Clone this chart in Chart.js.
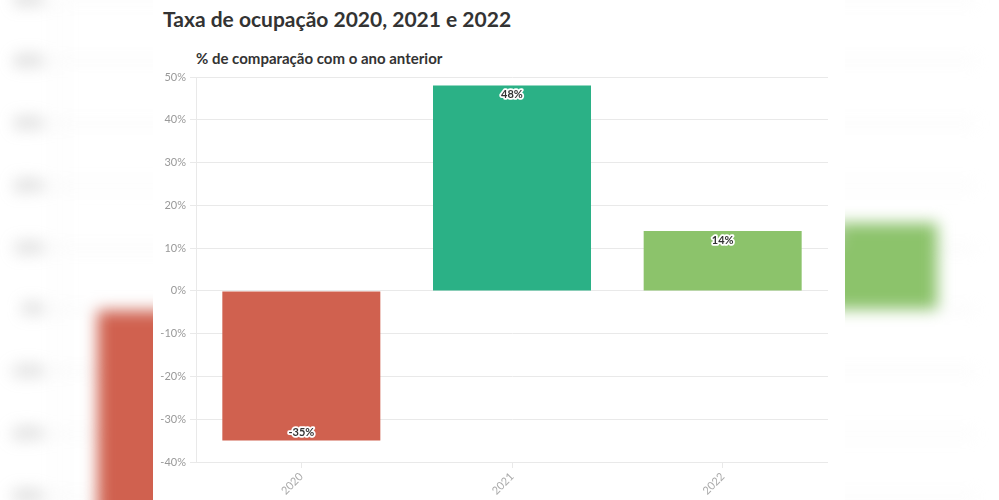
<!DOCTYPE html>
<html lang="pt-BR">
<head>
<meta charset="utf-8">
<title>Taxa de ocupação 2020, 2021 e 2022</title>
<script src="https://cdn.jsdelivr.net/npm/chart.js@4/dist/chart.umd.min.js"></script>
<style>
  html, body { margin: 0; padding: 0; background: #fff; }
  body { width: 999px; height: 500px; overflow: hidden; position: relative; font-family: Lato, "Open Sans", sans-serif; }
  .layer { position: absolute; left: 0; top: 0; width: 999px; height: 500px; }
  #bg { transform-origin: 500px 249px; transform: scale(1.45); filter: blur(5px); }
  .panel { position: absolute; left: 153px; top: 0; width: 692px; height: 500px; background: #fff; }
  #bg .panel { background: transparent; }
  .panel h1 { position: absolute; left: 10px; top: 6px; margin: 0; font-size: 21px; font-weight: 700; color: #333; white-space: nowrap; }
  .panel h2 { position: absolute; left: 43px; top: 49px; margin: 0; font-size: 15px; font-weight: 700; color: #333; white-space: nowrap; }
  .panel canvas { position: absolute; left: 0; top: 66px; }
</style>
</head>
<body>
<div class="layer" id="bg">
  <div class="panel"><canvas id="chart-bg" width="692" height="434"></canvas></div>
</div>
<div class="panel" id="main">
  <h1>Taxa de ocupação 2020, 2021 e 2022</h1>
  <h2>% de comparação com o ano anterior</h2>
  <canvas id="chart-main" width="692" height="434"></canvas>
</div>
<script>
(function () {
  'use strict';

  // data
  var years = ['2020', '2021', '2022'];
  var changes = [-35, 48, 14];
  var yMin = -40;
  var yMax = 50;
  var yStep = 10;

  var barColors = ['#d0614f', '#2bb186', '#8cc36b'];
  var gridColor = '#e9e9e9';
  var font = 'Lato, "Open Sans", sans-serif';

  // value labels drawn inside the bar end, dark text with white halo
  var valueLabels = {
    id: 'valueLabels',
    afterDatasetsDraw: function (chart) {
      var ctx = chart.ctx;
      var meta = chart.getDatasetMeta(0);
      ctx.save();
      ctx.font = 'bold 11px ' + font;
      ctx.textAlign = 'center';
      ctx.textBaseline = 'middle';
      ctx.lineJoin = 'round';
      meta.data.forEach(function (bar, i) {
        var v = chart.data.datasets[0].data[i];
        var y = v >= 0 ? bar.y + 9 : bar.y - 8;
        var txt = v + '%';
        ctx.strokeStyle = '#fff';
        ctx.lineWidth = 3.5;
        ctx.strokeText(txt, bar.x, y);
        ctx.fillStyle = '#333';
        ctx.fillText(txt, bar.x, y);
      });
      ctx.restore();
    }
  };

  function build(id) {
    var canvas = document.getElementById(id);
    return new Chart(canvas.getContext('2d'), {
      type: 'bar',
      data: {
        labels: years,
        datasets: [{
          data: changes,
          backgroundColor: barColors,
          borderWidth: 0,
          categoryPercentage: 1,
          barPercentage: 0.75
        }]
      },
      options: {
        responsive: false,
        animation: false,
        devicePixelRatio: 1,
        layout: { padding: { top: 11, right: 17, bottom: 0, left: 0 } },
        plugins: {
          legend: { display: false },
          tooltip: { enabled: false }
        },
        scales: {
          x: {
            grid: { offset: false, drawOnChartArea: false, drawTicks: true, tickLength: 6, color: gridColor },
            border: { display: false },
            ticks: { color: '#aaa', font: { family: font, size: 11 }, minRotation: 45, maxRotation: 45, padding: 2 },
            afterFit: function (s) { s.height = 38; }
          },
          y: {
            min: yMin,
            max: yMax,
            grid: { color: gridColor, tickLength: 6 },
            border: { display: true, color: gridColor },
            ticks: {
              stepSize: yStep,
              color: '#999',
              font: { family: font, size: 11 },
              padding: 4,
              callback: function (v) { return v + '%'; }
            },
            afterFit: function (s) { s.width = 43; }
          }
        }
      },
      plugins: [valueLabels]
    });
  }

  build('chart-bg');
  build('chart-main');
})();
</script>
</body>
</html>
